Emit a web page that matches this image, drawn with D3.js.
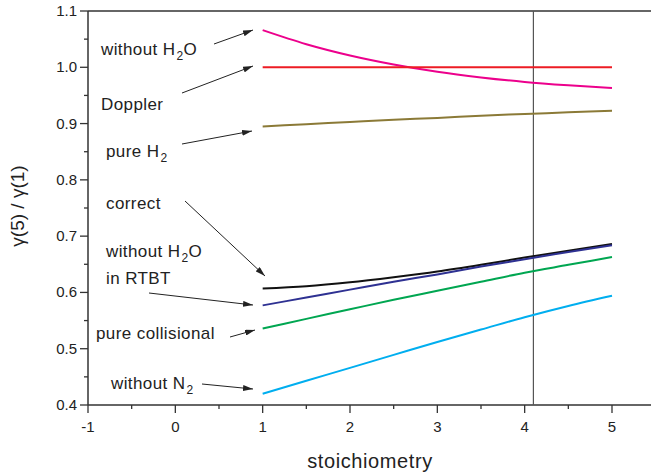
<!DOCTYPE html>
<html>
<head>
<meta charset="utf-8">
<script src="https://cdn.jsdelivr.net/npm/d3@7"></script>
<style>
  body { margin: 0; background: #fff; }
  svg text { font-family: "Liberation Sans", Arial, sans-serif; fill: #222; }
</style>
</head>
<body>
<div id="main"></div>
<script>
// stoichiometry values where the curves were computed
var stoich = [1, 1.5, 2, 2.5, 3, 3.5, 4, 4.5, 5];

var withoutH2O  = [1.066, 1.041, 1.021, 1.005, 0.992, 0.982, 0.974, 0.968, 0.963];
var doppler     = [1.0, 1.0, 1.0, 1.0, 1.0, 1.0, 1.0, 1.0, 1.0];
var pureH2      = [0.895, 0.899, 0.903, 0.907, 0.910, 0.914, 0.917, 0.920, 0.923];
var correct     = [0.607, 0.611, 0.618, 0.627, 0.637, 0.649, 0.662, 0.674, 0.686];
var rtbt        = [0.577, 0.591, 0.605, 0.619, 0.632, 0.646, 0.659, 0.672, 0.684];
var collisional = [0.536, 0.553, 0.570, 0.587, 0.603, 0.619, 0.635, 0.649, 0.663];
var withoutN2   = [0.420, 0.443, 0.466, 0.489, 0.512, 0.534, 0.556, 0.576, 0.594];

var xTicks = [-1, 0, 1, 2, 3, 4, 5];
var yTicks = [0.4, 0.5, 0.6, 0.7, 0.8, 0.9, 1.0, 1.1];
var markerX = 4.1;

var series = [
  { values: withoutH2O,  color: "#ec008c" },
  { values: doppler,     color: "#ed1c24" },
  { values: pureH2,      color: "#8b7a37" },
  { values: correct,     color: "#111111" },
  { values: rtbt,        color: "#2e3192" },
  { values: collisional, color: "#00a651" },
  { values: withoutN2,   color: "#00aeef" }
];

var W = 651, H = 473;
var pL = 88, pT = 11, pB = 405, pR = 612;

var x = d3.scaleLinear().domain([-1, 5]).range([pL, pR]);
var y = d3.scaleLinear().domain([0.4, 1.1]).range([pB, pT]);

var svg = d3.select("#main").append("svg")
  .attr("width", W).attr("height", H);

// frame: top line and left axis, bottom axis run off the right edge
svg.append("line")
  .attr("x1", pL).attr("x2", W).attr("y1", pT).attr("y2", pT)
  .attr("stroke", "#333").attr("stroke-width", 1.5);
svg.append("line")
  .attr("x1", pL).attr("x2", W).attr("y1", pB).attr("y2", pB)
  .attr("stroke", "#333").attr("stroke-width", 1.5);
svg.append("line")
  .attr("x1", pL).attr("x2", pL).attr("y1", pT).attr("y2", pB)
  .attr("stroke", "#333").attr("stroke-width", 1.5);

// x axis
var xMinor = d3.range(-0.5, 5.5, 1);
var gx = svg.append("g").attr("transform", "translate(0," + pB + ")");
gx.selectAll(".maj").data(xTicks).enter().append("line")
  .attr("x1", function(d) { return x(d); }).attr("x2", function(d) { return x(d); })
  .attr("y1", 0).attr("y2", 8).attr("stroke", "#333").attr("stroke-width", 1.3);
gx.selectAll(".min").data(xMinor).enter().append("line")
  .attr("x1", function(d) { return x(d); }).attr("x2", function(d) { return x(d); })
  .attr("y1", 0).attr("y2", 4).attr("stroke", "#333").attr("stroke-width", 1.3);
gx.selectAll("text").data(xTicks).enter().append("text")
  .attr("x", function(d) { return x(d); }).attr("y", 27)
  .attr("text-anchor", "middle").attr("font-size", 15)
  .text(function(d) { return d; });

// y axis
var yMinor = d3.range(0.45, 1.1, 0.1);
var gy = svg.append("g");
gy.selectAll(".maj").data(yTicks).enter().append("line")
  .attr("x1", pL - 8).attr("x2", pL)
  .attr("y1", function(d) { return y(d); }).attr("y2", function(d) { return y(d); })
  .attr("stroke", "#333").attr("stroke-width", 1.3);
gy.selectAll(".min").data(yMinor).enter().append("line")
  .attr("x1", pL - 4).attr("x2", pL)
  .attr("y1", function(d) { return y(d); }).attr("y2", function(d) { return y(d); })
  .attr("stroke", "#333").attr("stroke-width", 1.3);
gy.selectAll("text").data(yTicks).enter().append("text")
  .attr("x", pL - 11).attr("y", function(d) { return y(d) + 5; })
  .attr("text-anchor", "end").attr("font-size", 15)
  .text(function(d) { return d3.format(".1f")(d); });

// axis titles
svg.append("text")
  .attr("x", 370).attr("y", 468)
  .attr("text-anchor", "middle").attr("font-size", 20).attr("letter-spacing", 0.6)
  .text("stoichiometry");
svg.append("text")
  .attr("transform", "translate(24,206) rotate(-90)")
  .attr("text-anchor", "middle").attr("font-size", 19)
  .text("\u03b3(5) / \u03b3(1)");

// vertical marker
svg.append("line")
  .attr("x1", x(markerX)).attr("x2", x(markerX))
  .attr("y1", pT).attr("y2", pB)
  .attr("stroke", "#555").attr("stroke-width", 1.2);

// curves
var line = d3.line()
  .x(function(d, i) { return x(stoich[i]); })
  .y(function(d) { return y(d); })
  .curve(d3.curveMonotoneX);

svg.selectAll(".curve").data(series).enter().append("path")
  .attr("d", function(s) { return line(s.values); })
  .attr("fill", "none")
  .attr("stroke", function(s) { return s.color; })
  .attr("stroke-width", 2);

// annotations
svg.append("defs").append("marker")
  .attr("id", "arr").attr("viewBox", "0 0 10 6")
  .attr("refX", 10).attr("refY", 3)
  .attr("markerWidth", 10).attr("markerHeight", 6)
  .attr("markerUnits", "userSpaceOnUse")
  .attr("orient", "auto")
  .append("path").attr("d", "M0,0 L10,3 L0,6 Z").attr("fill", "#222");

var notes = [
  { parts: [["without H", 0], ["2", 1], ["O", 0]], tx: 101, ty: 55,  from: [214, 44],  to: [253, 30] },
  { parts: [["Doppler", 0]],                         tx: 101, ty: 110, from: [182, 93],  to: [253, 66] },
  { parts: [["pure H", 0], ["2", 1]],                tx: 106, ty: 157, from: [182, 144], to: [252, 131] },
  { parts: [["correct", 0]],                         tx: 106, ty: 209, from: [185, 201], to: [265, 276] },
  { parts: [["without H", 0], ["2", 1], ["O", 0]], tx: 106, ty: 257, from: [149, 293], to: [253, 305] },
  { parts: [["in RTBT", 0]],                         tx: 106, ty: 284, from: null },
  { parts: [["pure collisional", 0]],                tx: 96,  ty: 339, from: [230, 337], to: [255, 330] },
  { parts: [["without N", 0], ["2", 1]],             tx: 111, ty: 389, from: [202, 384], to: [253, 389] }
];

notes.forEach(function(n) {
  var t = svg.append("text").attr("x", n.tx).attr("y", n.ty)
    .attr("font-size", 17).attr("letter-spacing", 0.4);
  var low = 0;
  n.parts.forEach(function(p) {
    var dy = p[1] ? 5 - low : -low;
    low = p[1] ? 5 : 0;
    t.append("tspan").attr("dy", dy)
      .attr("font-size", p[1] ? 12 : 17)
      .attr("dx", p[1] ? 1 : 0)
      .text(p[0]);
  });
  if (n.from) {
    svg.append("line")
      .attr("x1", n.from[0]).attr("y1", n.from[1])
      .attr("x2", n.to[0]).attr("y2", n.to[1])
      .attr("stroke", "#222").attr("stroke-width", 1)
      .attr("marker-end", "url(#arr)");
  }
});
</script>
</body>
</html>
